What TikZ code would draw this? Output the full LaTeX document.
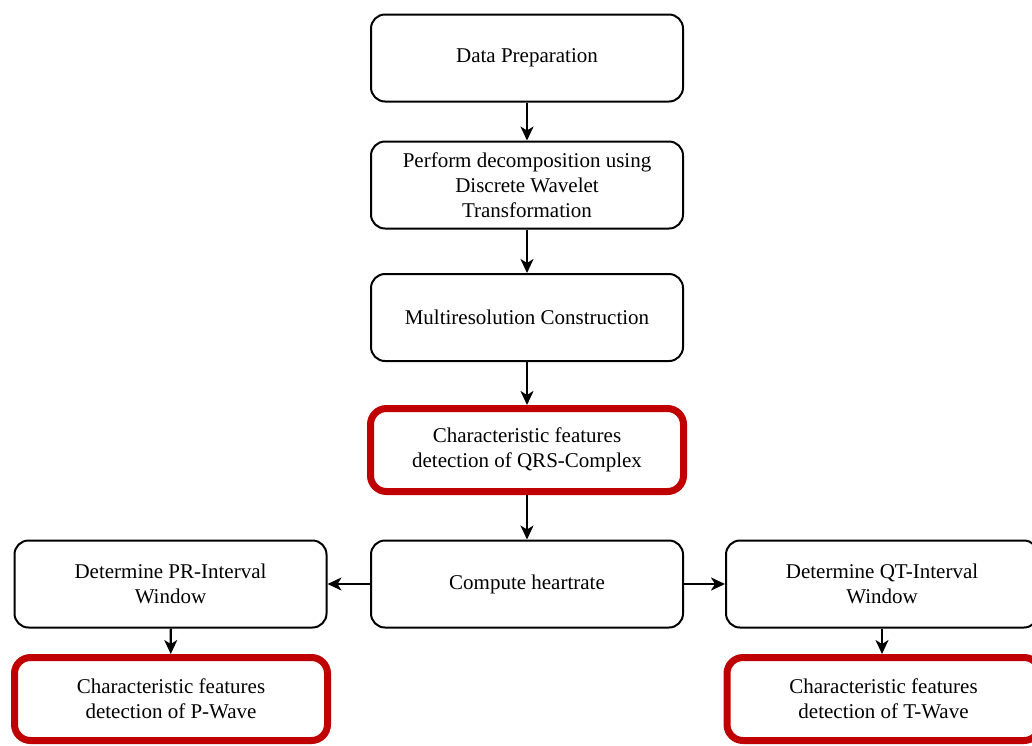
\documentclass[tikz,border=0pt]{standalone}
\usepackage{fontspec}
\setmainfont{Liberation Serif}
\usetikzlibrary{arrows.meta}
\definecolor{boxred}{HTML}{C00000}
\tikzset{
  stepbox/.style={draw=black, line width=2pt, rounded corners=14pt, fill=white,
    minimum width=312pt, minimum height=87pt, align=center, inner sep=0pt,
    font=\fontsize{21}{25}\selectfont},
  keybox/.style={stepbox, draw=boxred, line width=7pt, rounded corners=16pt,
    minimum width=313pt, minimum height=83pt},
  flow/.style={line width=2.2pt, -{Stealth[length=14pt,width=13pt,inset=4pt]}}
}
\begin{document}
\begin{tikzpicture}[x=1pt,y=-1pt]
  \useasboundingbox (0,0) rectangle (1032,745);
  \clip (0,0) rectangle (1032,745);
  \fill[white] (0,0) rectangle (1032,745);

  % main column
  \node[stepbox] (prep)  at (527,58)  {Data Preparation};
  \node[stepbox] (dwt)   at (527,185) {Perform decomposition using\\Discrete Wavelet\\Transformation};
  \node[stepbox] (multi) at (527,317.5) {Multiresolution Construction};
  \node[keybox]  (qrs)   at (527,450) {Characteristic features\\detection of QRS-Complex};
  \node[stepbox] (hr)    at (527,584) {Compute heartrate};

  % side branches
  \node[stepbox] (pr)    at (170.5,584) {Determine PR-Interval\\Window};
  \node[stepbox] (qt)    at (882,584)   {Determine QT-Interval\\Window};
  \node[keybox]  (pwave) at (171,699)   {Characteristic features\\detection of P-Wave};
  \node[keybox]  (twave) at (883.5,699) {Characteristic features\\detection of T-Wave};

  % connectors
  \draw[flow] (prep)  -- (dwt);
  \draw[flow] (dwt)   -- (multi);
  \draw[flow] (multi) -- (qrs);
  \draw[flow] (qrs)   -- (hr);
  \draw[flow] (hr)    -- (pr);
  \draw[flow] (hr)    -- (qt);
  \draw[flow] (pr)    -- (pwave);
  \draw[flow] (qt.south) -- (qt.south |- pwave.north);
\end{tikzpicture}
\end{document}
